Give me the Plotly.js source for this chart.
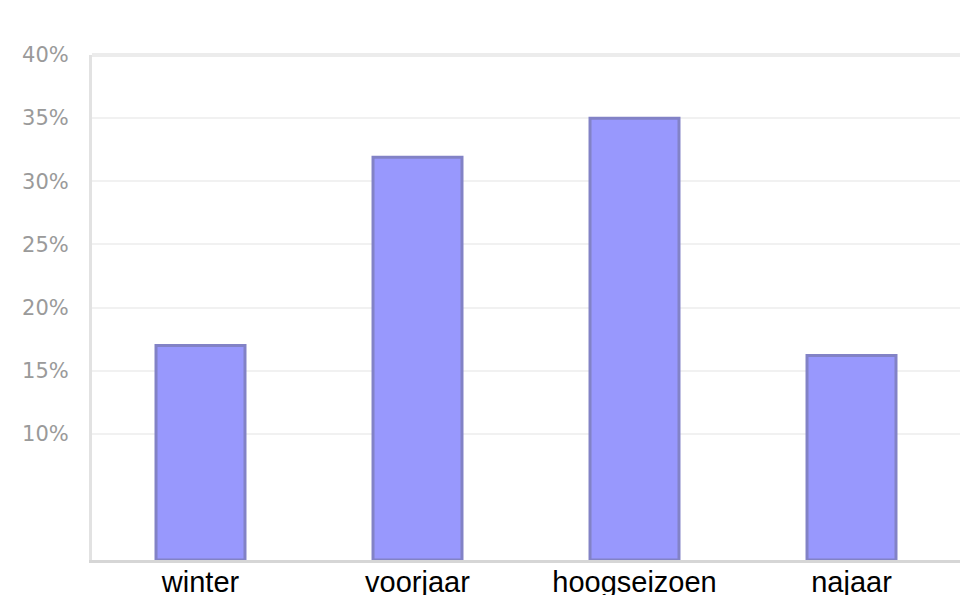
<!DOCTYPE html>
<html>
<head>
<meta charset="utf-8">
<script src="https://cdn.plot.ly/plotly-3.0.1.min.js"></script>
<style>
html,body{margin:0;padding:0;background:#fff;}
#chart{width:966px;height:595px;}
</style>
</head>
<body>
<div id="chart"></div>
<script>
const categories = ["winter", "voorjaar", "hoogseizoen", "najaar"];
const shares = [17.0, 31.9, 35.0, 16.2];
const tickValues = [10, 15, 20, 25, 30, 35, 40];
const tickLabels = ["10%", "15%", "20%", "25%", "30%", "35%", "40%"];

const trace = {
  type: "bar",
  x: categories,
  y: shares,
  marker: {color: "#9898fd", line: {color: "#8282c6", width: 3}},
  hoverinfo: "x+y"
};

const layout = {
  width: 966, height: 595,
  margin: {l: 92, r: 6, t: 55, b: 35},
  paper_bgcolor: "#ffffff",
  plot_bgcolor: "#ffffff",
  bargap: 0.59,
  showlegend: false,
  xaxis: {
    type: "category",
    range: [-0.5, 3.5],
    showline: true, linecolor: "#d6d6d6", linewidth: 3,
    showgrid: false, ticks: "", zeroline: false,
    tickfont: {family: "Liberation Sans, Arial, sans-serif", size: 29, color: "#000"},
    ticklabelstandoff: -6
  },
  yaxis: {
    range: [0, 40],
    tickvals: tickValues, ticktext: tickLabels,
    showline: true, linecolor: "#e2e2e2", linewidth: 3,
    showgrid: true, gridcolor: "#f1f1f1", gridwidth: 2,
    zeroline: false, ticks: "",
    tickfont: {family: "DejaVu Sans, sans-serif", size: 21, color: "#9a9a9a"},
    ticklabelstandoff: 16
  },
  shapes: [
    {type: "line", xref: "paper", yref: "paper", x0: 0, x1: 1, y0: 1, y1: 1,
     line: {color: "#ececec", width: 4}}
  ]
};

Plotly.newPlot("chart", [trace], layout, {displayModeBar: false, staticPlot: true});
</script>
</body>
</html>
